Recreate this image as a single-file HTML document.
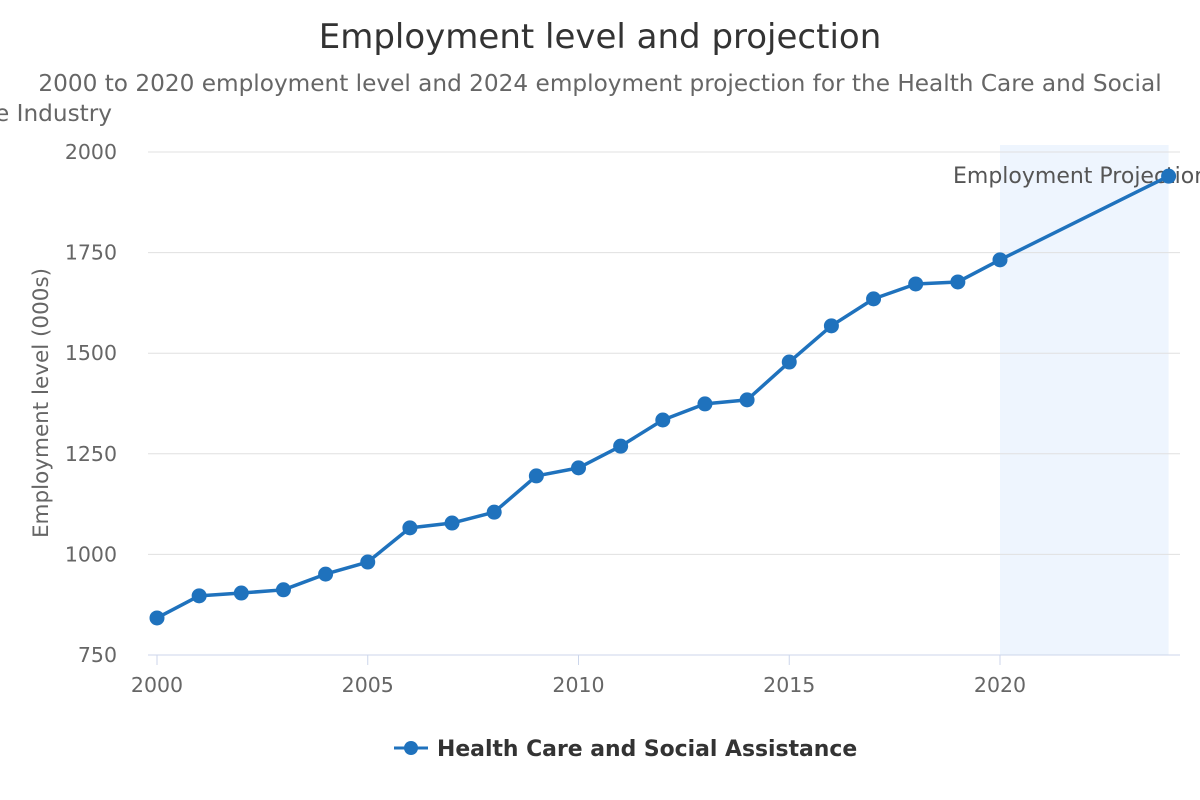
<!DOCTYPE html>
<html><head><meta charset="utf-8"><style>
html,body{margin:0;padding:0;background:#fff;width:1200px;height:800px;overflow:hidden}
svg text{font-family:"DejaVu Sans","Liberation Sans",sans-serif}
</style></head><body>
<svg id="chart" width="1200" height="800" xmlns="http://www.w3.org/2000/svg">
<text x="600" y="48" text-anchor="middle" font-size="34" fill="#333">Employment level and projection</text>
<text x="600" y="91" text-anchor="middle" font-size="23.2" fill="#666">2000 to 2020 employment level and 2024 employment projection for the Health Care and Social</text>
<text x="112" y="121" text-anchor="end" font-size="23.2" fill="#666">Assistance Industry</text>
<g id="plot"></g>
<text transform="translate(48,403) rotate(-90)" text-anchor="middle" font-size="21.5" fill="#666">Employment level (000s)</text>
<g>
<line x1="394" y1="748" x2="428" y2="748" stroke="#1f72bd" stroke-width="3"/>
<circle cx="411" cy="748" r="7" fill="#1f72bd"/>
<text x="437" y="756" font-size="21.9" font-weight="bold" fill="#333">Health Care and Social Assistance</text>
</g>
</svg>
<script>
const years=[2000,2001,2002,2003,2004,2005,2006,2007,2008,2009,2010,2011,2012,2013,2014,2015,2016,2017,2018,2019,2020,2024];
const values=[842,897,904,912,951,981,1066,1078,1105,1195,1215,1269,1334,1374,1384,1478,1568,1635,1672,1677,1732,1940];
const yTicks=[750,1000,1250,1500,1750,2000];
const xTicks=[2000,2005,2010,2015,2020];
const NS="http://www.w3.org/2000/svg";
const g=document.getElementById('plot');
const X=v=>157+(v-2000)*(1000-157)/20;
const Y=v=>655-(v-750)*(655-152)/1250;
function mk(t,a,p){const e=document.createElementNS(NS,t);for(const k in a)e.setAttribute(k,a[k]);(p||g).appendChild(e);return e;}
const band=mk('rect',{x:X(2020),y:145,width:X(2024)-X(2020),height:510,fill:'#eef5fe'});


const bl=mk('text',{x:953,y:183,'font-size':22,fill:'#555'});bl.textContent='Employment Projection';


yTicks.forEach(t=>{
 const l=mk('line',{x1:148,x2:1180,y1:Y(t),y2:Y(t),stroke:t===750?'#ccd6eb':'#e0e0e0','stroke-width':1});
 
 
 const tx=mk('text',{x:117,y:Y(t)+7,'text-anchor':'end','font-size':20.5,fill:'#666'});tx.textContent=t;
 
 
});
xTicks.forEach(t=>{
 const l=mk('line',{x1:X(t),x2:X(t),y1:655,y2:665,stroke:'#ccd6eb'});
 
 
 const tx=mk('text',{x:X(t),y:692,'text-anchor':'middle','font-size':20.5,fill:'#666'});tx.textContent=t;
 
 
});
const line=mk('polyline',{points:years.map((y,i)=>X(y)+','+Y(values[i])).join(' '),fill:'none',stroke:'#1f72bd','stroke-width':3.5,'stroke-linejoin':'round'});


years.forEach((y,i)=>{
 const c=mk('circle',{cx:X(y),cy:Y(values[i]),r:7.5,fill:'#1f72bd'});
 
 
});
</script>
</body></html>
